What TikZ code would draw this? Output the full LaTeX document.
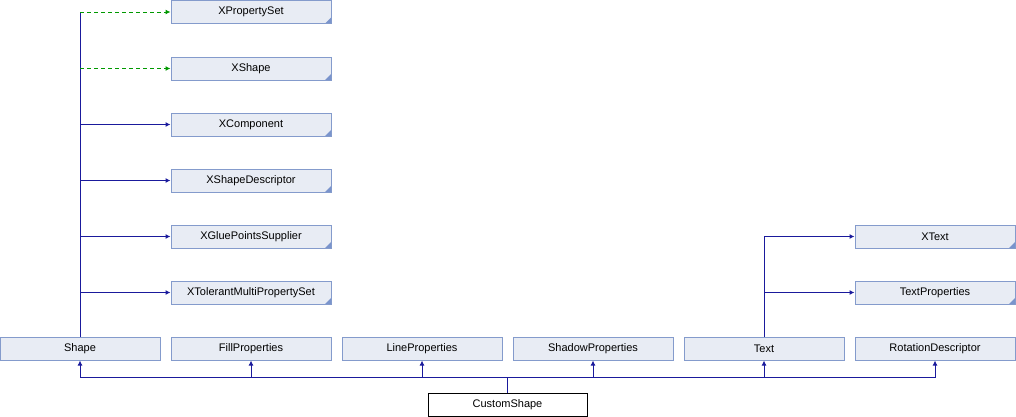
\documentclass[tikz,border=0pt]{standalone}
\usepackage{fontspec}
\setmainfont{Liberation Sans}
\usetikzlibrary{arrows.meta}
\definecolor{dx_fill}{RGB}{232, 236, 244}
\definecolor{dx_border}{RGB}{132, 155, 204}
\definecolor{dx_corner}{RGB}{122, 148, 204}
\definecolor{dx_blue}{RGB}{26, 26, 156}
\definecolor{dx_green}{RGB}{0, 153, 0}
\tikzstyle{cls}=[rectangle,fill=dx_fill,draw=dx_border,line width=1pt,
  minimum width=160pt,minimum height=23pt,inner sep=0pt,font=\fontsize{11}{13}\selectfont]
\tikzstyle{ext}=[cls,path picture={\fill[dx_corner] (path picture bounding box.south east)
  -- ++(-6pt,0) -- ++(6pt,6pt) -- cycle;}]
\tikzstyle{me}=[rectangle,fill=white,draw=black,line width=1pt,
  minimum width=159pt,minimum height=23pt,inner sep=0pt,font=\fontsize{11}{13}\selectfont]
\tikzstyle{inh}=[draw=dx_blue,line width=1pt,-{Latex[length=5pt,width=5pt]}]
\tikzstyle{use}=[draw=dx_green,line width=1pt,dash pattern=on 4pt off 3pt,
  -{Latex[length=5pt,width=5pt]}]
\tikzstyle{plain}=[draw=dx_blue,line width=1pt]

\begin{document}
\begin{tikzpicture}[x=1pt,y=-1pt]
    \useasboundingbox (0,0) rectangle (1016,416);
    % upper interfaces of Shape
    \node [style=ext] (xpropertyset) at (251,12) {XPropertySet};
    \node [style=ext] (xshape) at (251,68.5) {XShape};
    \node [style=ext] (xcomponent) at (251,124.5) {XComponent};
    \node [style=ext] (xshapedescriptor) at (251,180.5) {XShapeDescriptor};
    \node [style=ext] (xgluepoints) at (251,236.5) {XGluePointsSupplier};
    \node [style=ext] (xtolerant) at (251,292.5) {XTolerantMultiPropertySet};
    % upper interfaces of Text
    \node [style=ext] (xtext) at (935,236.5) {XText};
    \node [style=ext] (textproperties) at (935,292.5) {TextProperties};
    % direct bases
    \node [style=cls] (shape) at (80,348.5) {Shape};
    \node [style=cls] (fillproperties) at (251,348.5) {FillProperties};
    \node [style=cls] (lineproperties) at (422,348.5) {LineProperties};
    \node [style=cls] (shadowproperties) at (593,348.5) {ShadowProperties};
    \node [style=cls] (text) at (764,348.5) {Text};
    \node [style=cls] (rotation) at (935,348.5) {RotationDescriptor};
    \node [style=me] (customshape) at (507.5,404.5) {CustomShape};
    \coordinate (bus) at (507.5,377);
    % Shape links
    \draw [style=plain] (shape.north) to (shape.north |- xpropertyset.west);
    \draw [style=use] (shape.north |- xpropertyset.west) to (xpropertyset.west);
    \draw [style=use] (shape.north |- xshape.west) to (xshape.west);
    \draw [style=inh] (shape.north |- xcomponent.west) to (xcomponent.west);
    \draw [style=inh] (shape.north |- xshapedescriptor.west) to (xshapedescriptor.west);
    \draw [style=inh] (shape.north |- xgluepoints.west) to (xgluepoints.west);
    \draw [style=inh] (shape.north |- xtolerant.west) to (xtolerant.west);
    % Text links
    \draw [style=inh] (text.north) |- (xtext.west);
    \draw [style=inh] (text.north |- textproperties.west) to (textproperties.west);
    % CustomShape links
    \draw [style=plain] (customshape.north) to (bus);
    \draw [style=inh] (bus) -| (shape.south);
    \draw [style=inh] (bus) -| (fillproperties.south);
    \draw [style=inh] (bus) -| (lineproperties.south);
    \draw [style=inh] (bus) -| (shadowproperties.south);
    \draw [style=inh] (bus) -| (text.south);
    \draw [style=inh] (bus) -| (rotation.south);
\end{tikzpicture}
\end{document}
